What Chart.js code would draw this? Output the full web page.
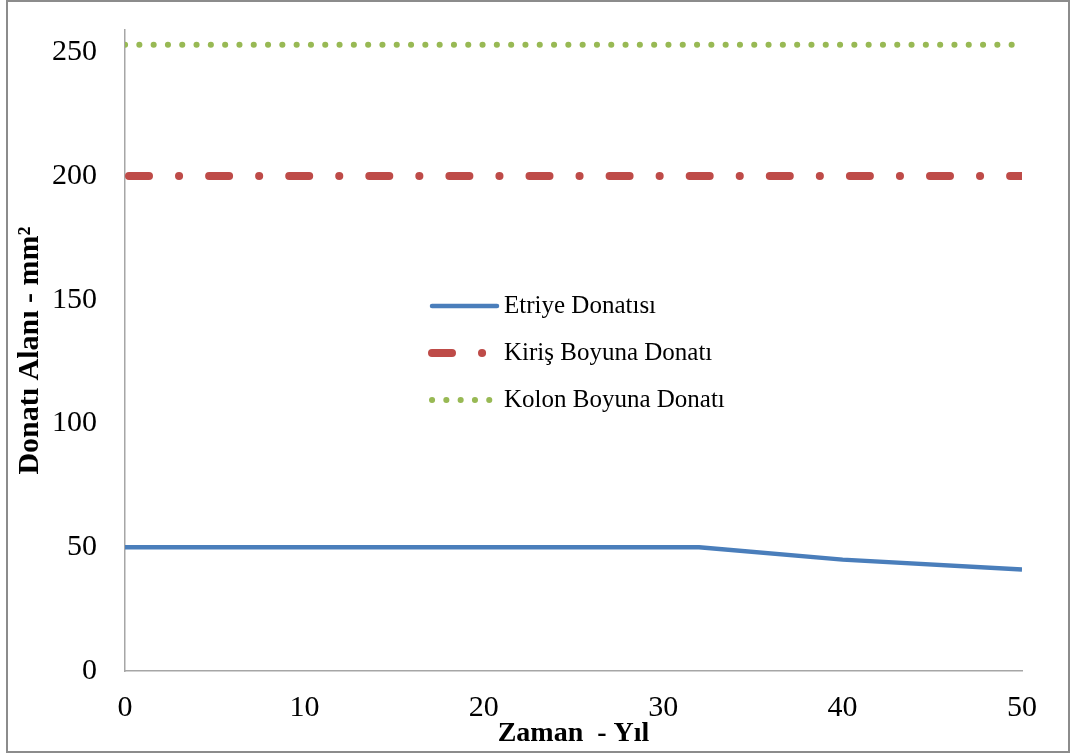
<!DOCTYPE html>
<html>
<head>
<meta charset="utf-8">
<script src="https://cdn.jsdelivr.net/npm/chart.js@4.4.1/dist/chart.umd.min.js"></script>
<style>
  html, body { margin: 0; padding: 0; background: #fff; }
  #box {
    position: absolute; left: 6px; top: 0;
    width: 1060px; height: 749px;
    border: 2px solid #8c8c8c;
    background: #fff;
  }
</style>
</head>
<body>
<div id="box"><canvas id="myChart" width="1060" height="749"></canvas></div>
<script>
// data
const years = [0, 32, 40, 50]
const etriye = [50, 50, 45, 41]
const spanYears = [0, 50]
const kiris = [200, 200]
const kolon = [253, 253]
const seriesNames = ['Etriye Donatısı', 'Kiriş Boyuna Donatı', 'Kolon Boyuna Donatı']
const yTicks = [0, 50, 100, 150, 200, 250]
const xTicks = [0, 10, 20, 30, 40, 50]

const pts = (xs, ys) => xs.map((x, i) => ({ x: x, y: ys[i] }))

// legend sits inside the plot, like the Excel original
const innerLegend = {
  id: 'innerLegend',
  afterDraw(chart) {
    const ctx = chart.ctx
    const x0 = 424, x1 = 489, tx = 496
    const rows = [304, 351, 398]
    chart.data.datasets.forEach((ds, i) => {
      const y = rows[i]
      ctx.save()
      ctx.strokeStyle = ds.borderColor
      ctx.lineWidth = ds.borderWidth
      ctx.lineCap = 'round'
      ctx.setLineDash(ds.borderDash || [])
      ctx.lineDashOffset = ds.legendOffset || 0
      ctx.beginPath()
      ctx.moveTo(x0, y)
      ctx.lineTo(x1, y)
      ctx.stroke()
      ctx.restore()
      ctx.fillStyle = '#000'
      ctx.font = '25px "Liberation Serif"'
      ctx.textBaseline = 'middle'
      ctx.fillText(ds.label, tx, y)
    })
  }
}

const ctx = document.getElementById('myChart')
new Chart(ctx, {
  type: 'line',
  data: {
    datasets: [
      {
        label: seriesNames[0],
        data: pts(years, etriye),
        borderColor: '#4A7EBB',
        borderWidth: 4.5,
        tension: 0,
        pointRadius: 0
      },
      {
        label: seriesNames[1],
        data: pts(spanYears, kiris),
        borderColor: '#BE4B48',
        borderWidth: 8,
        borderCapStyle: 'round',
        borderDash: [20, 30, 0.1, 30],
        borderDashOffset: -4,
        legendOffset: 0,
        pointRadius: 0
      },
      {
        label: seriesNames[2],
        data: pts(spanYears, kolon),
        borderColor: '#98B954',
        borderWidth: 6,
        borderCapStyle: 'round',
        borderDash: [0.1, 14.2],
        pointRadius: 0
      }
    ]
  },
  options: {
    responsive: false,
    animation: false,
    layout: { padding: { top: 28, right: 46, left: 0, bottom: 0 } },
    plugins: {
      legend: { display: false },
      tooltip: { enabled: false }
    },
    scales: {
      x: {
        type: 'linear',
        min: 0,
        max: 50,
        afterBuildTicks: (s) => { s.ticks = xTicks.map(v => ({ value: v })) },
        afterFit: (s) => { s.height = 80 },
        grid: { display: false, drawTicks: false },
        border: { color: '#a6a6a6', width: 1.5 },
        ticks: {
          padding: 19,
          color: '#000',
          font: { family: 'Liberation Serif', size: 30 }
        },
        title: {
          display: true,
          text: 'Zaman  - Yıl',
          color: '#000',
          font: { family: 'Liberation Serif', size: 28, weight: 'bold' },
          padding: { top: 0, bottom: 0 }
        }
      },
      y: {
        min: 0,
        max: 259,
        afterBuildTicks: (s) => { s.ticks = yTicks.map(v => ({ value: v })) },
        afterFit: (s) => {
          s.width = 117
          // keep tick padding from pushing the plot top down
          s.paddingTop = 0
          s.paddingBottom = 0
        },
        grid: { display: false, drawTicks: false },
        border: { color: '#a6a6a6', width: 1.5 },
        ticks: {
          padding: 28,
          color: '#000',
          font: { family: 'Liberation Serif', size: 30 }
        },
        title: {
          display: true,
          text: 'Donatı Alanı - mm²',
          color: '#000',
          font: { family: 'Liberation Serif', size: 30, weight: 'bold' },
          padding: { top: 4, bottom: 0 }
        }
      }
    }
  },
  plugins: [innerLegend]
})
</script>
</body>
</html>
